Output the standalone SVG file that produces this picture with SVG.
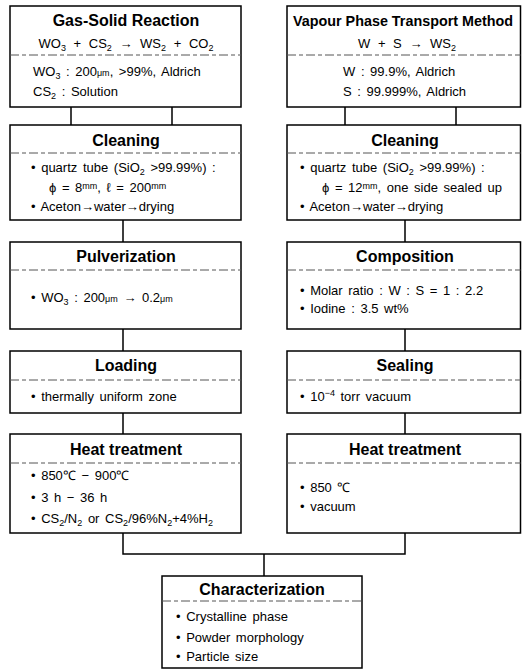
<svg xmlns="http://www.w3.org/2000/svg" width="522" height="671" viewBox="0 0 522 671">
<style>
.box{fill:#fff;stroke:#000;stroke-width:1.5}
.div{stroke:#555;stroke-width:1;stroke-dasharray:9 3 4 3}
.t{font-family:"Liberation Sans",Arial,sans-serif;font-weight:bold;font-size:16px;text-anchor:middle;fill:#000}
.b{font-family:"Liberation Sans",Arial,sans-serif;font-size:13px;word-spacing:2px;fill:#000}
.c{text-anchor:middle}
.s{font-size:9px}
.conn{stroke:#000;stroke-width:1.5;fill:none}
</style>
<rect width="522" height="671" fill="#fff"/>
<g id="connectors" class="conn">
<path d="M71 107V125M172 107V125M345 107V125M456 107V125"/>
<path d="M123 220V242M123 329V351M123 413V434M405 220V242M405 329V351M405 413V434"/>
<path d="M123 533V554H405V533M264 554V576"/>
</g>
<g id="gas-solid">
<rect class="box" x="10" y="6" width="231" height="101"/>
<line class="div" x1="10" y1="55" x2="241" y2="55"/>
<text class="t" x="126" y="26">Gas-Solid Reaction</text>
<text class="b c" x="126" y="48" style="word-spacing:4px">WO<tspan class="s" dy="3">3</tspan><tspan dy="-3"> + CS</tspan><tspan class="s" dy="3">2</tspan><tspan dy="-3"> → WS</tspan><tspan class="s" dy="3">2</tspan><tspan dy="-3"> + CO</tspan><tspan class="s" dy="3">2</tspan></text>
<text class="b" x="33" y="76">WO<tspan class="s" dy="3">3</tspan><tspan dy="-3"> : 200</tspan><tspan class="s">μm</tspan>, &gt;99%, Aldrich</text>
<text class="b" x="33" y="96">CS<tspan class="s" dy="3">2</tspan><tspan dy="-3"> : Solution</tspan></text>
</g>
<g id="vapour">
<rect class="box" x="287" y="6" width="233.5" height="101"/>
<line class="div" x1="287" y1="55" x2="520.5" y2="55"/>
<text class="t" x="403" y="26" style="font-size:15px" textLength="220" lengthAdjust="spacingAndGlyphs">Vapour Phase Transport Method</text>
<text class="b c" x="407" y="48" style="word-spacing:4px">W + S → WS<tspan class="s" dy="3">2</tspan></text>
<text class="b" x="343" y="76">W : 99.9%, Aldrich</text>
<text class="b" x="343" y="96">S : 99.999%, Aldrich</text>
</g>
<g id="cleaning-left">
<rect class="box" x="10" y="125" width="231" height="95"/>
<line class="div" x1="10" y1="153" x2="241" y2="153"/>
<text class="t" x="126" y="146">Cleaning</text>
<text class="b" x="31" y="172">• quartz tube (SiO<tspan class="s" dy="3">2</tspan><tspan dy="-3"> &gt;99.99%) :</tspan></text>
<text class="b" x="49" y="192">ϕ = 8<tspan class="s" dy="-3">mm</tspan><tspan dy="3">,  ℓ = 200</tspan><tspan class="s" dy="-3">mm</tspan></text>
<text class="b" x="31" y="211">• Aceton→water→drying</text>
</g>
<g id="cleaning-right">
<rect class="box" x="287" y="125" width="233.5" height="95"/>
<line class="div" x1="287" y1="153" x2="520.5" y2="153"/>
<text class="t" x="405" y="146">Cleaning</text>
<text class="b" x="300" y="172">• quartz tube (SiO<tspan class="s" dy="3">2</tspan><tspan dy="-3"> &gt;99.99%) :</tspan></text>
<text class="b" x="322" y="192">ϕ = 12<tspan class="s" dy="-3">mm</tspan><tspan dy="3">, one side sealed up</tspan></text>
<text class="b" x="300" y="211">• Aceton→water→drying</text>
</g>
<g id="pulverization">
<rect class="box" x="10" y="242" width="231" height="87"/>
<line class="div" x1="10" y1="270" x2="241" y2="270"/>
<text class="t" x="126" y="262">Pulverization</text>
<text class="b" x="31" y="302">• WO<tspan class="s" dy="3">3</tspan><tspan dy="-3"> : 200</tspan><tspan class="s">μm</tspan> → 0.2<tspan class="s">μm</tspan></text>
</g>
<g id="composition">
<rect class="box" x="287" y="242" width="233.5" height="87"/>
<line class="div" x1="287" y1="270" x2="520.5" y2="270"/>
<text class="t" x="405" y="262">Composition</text>
<text class="b" x="300" y="295">• Molar ratio : W : S = 1 : 2.2</text>
<text class="b" x="300" y="313">• Iodine : 3.5 wt%</text>
</g>
<g id="loading">
<rect class="box" x="10" y="351" width="231" height="62"/>
<line class="div" x1="10" y1="380" x2="241" y2="380"/>
<text class="t" x="126" y="371">Loading</text>
<text class="b" x="31" y="401">• thermally uniform zone</text>
</g>
<g id="sealing">
<rect class="box" x="287" y="351" width="233.5" height="62"/>
<line class="div" x1="287" y1="380" x2="520.5" y2="380"/>
<text class="t" x="405" y="371">Sealing</text>
<text class="b" x="300" y="401">• 10<tspan class="s" dy="-5">−4</tspan><tspan dy="5"> torr vacuum</tspan></text>
</g>
<g id="heat-left">
<rect class="box" x="10" y="434" width="231" height="99"/>
<line class="div" x1="10" y1="463" x2="241" y2="463"/>
<text class="t" x="126" y="455">Heat treatment</text>
<text class="b" x="31" y="480">• 850℃ − 900℃</text>
<text class="b" x="31" y="502">• 3 h − 36 h</text>
<text class="b" x="31" y="523">• CS<tspan class="s" dy="3">2</tspan><tspan dy="-3">/N</tspan><tspan class="s" dy="3">2</tspan><tspan dy="-3"> or CS</tspan><tspan class="s" dy="3">2</tspan><tspan dy="-3">/96%N</tspan><tspan class="s" dy="3">2</tspan><tspan dy="-3">+4%H</tspan><tspan class="s" dy="3">2</tspan></text>
</g>
<g id="heat-right">
<rect class="box" x="287" y="434" width="233.5" height="99"/>
<line class="div" x1="287" y1="463" x2="520.5" y2="463"/>
<text class="t" x="405" y="455">Heat treatment</text>
<text class="b" x="300" y="492">• 850 ℃</text>
<text class="b" x="300" y="511">• vacuum</text>
</g>
<g id="characterization">
<rect class="box" x="162" y="576" width="200" height="92"/>
<line class="div" x1="162" y1="601" x2="362" y2="601"/>
<text class="t" x="262" y="595">Characterization</text>
<text class="b" x="176" y="621">• Crystalline phase</text>
<text class="b" x="176" y="642">• Powder morphology</text>
<text class="b" x="176" y="661">• Particle size</text>
</g>
</svg>
